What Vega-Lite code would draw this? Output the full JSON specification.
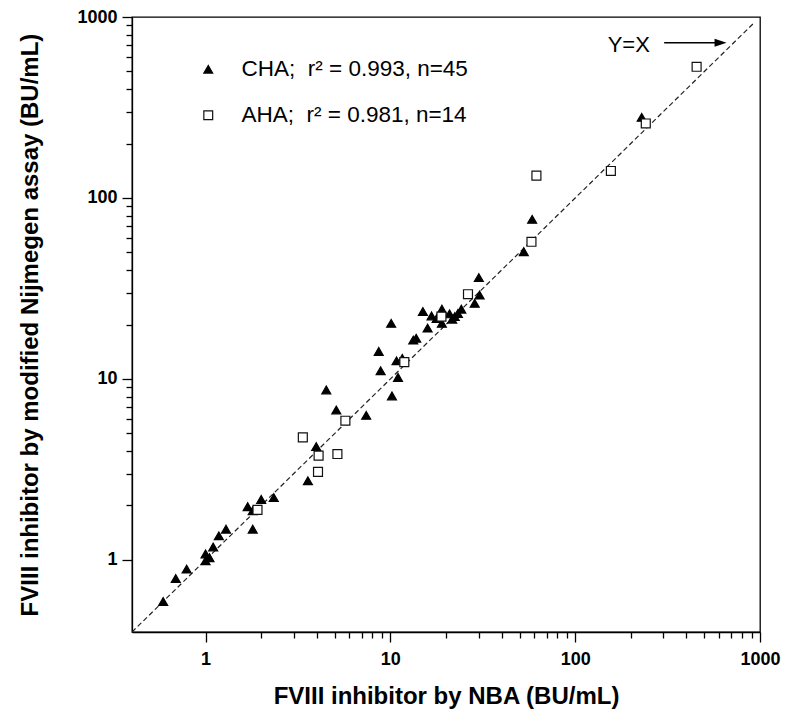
{
  "$schema": "https://vega.github.io/schema/vega-lite/v6.json",
  "width": 628,
  "height": 615,
  "autosize": {"type": "none"},
  "padding": {"left": 132, "top": 17, "right": 34, "bottom": 84},
  "background": "white",
  "config": {
    "view": {"stroke": "black", "strokeWidth": 1.3},
    "font": "Liberation Sans",
    "legend": {
      "orient": "none",
      "legendX": 65,
      "legendY": 41,
      "padding": 0,
      "labelFontSize": 22.5,
      "labelFont": "Liberation Sans",
      "labelColor": "black",
      "labelLimit": 500,
      "symbolSize": 78,
      "symbolStrokeColor": "black",
      "symbolStrokeWidth": 1.2,
      "symbolOpacity": 1,
      "rowPadding": 23,
      "labelOffset": 22
    }
  },
  "encoding": {
    "x": {
      "field": "x",
      "type": "quantitative",
      "scale": {"type": "log", "domain": [0.4, 1000], "nice": false, "zero": false},
      "axis": {
        "title": "FVIII inhibitor by NBA (BU/mL)",
        "values": [1, 2, 3, 4, 5, 6, 7, 8, 9, 10, 20, 30, 40, 50, 60, 70, 80, 90, 100, 200, 300, 400, 500, 600, 700, 800, 900, 1000],
        "format": "d",
        "labelExpr": "indexof([1,10,100,1000], datum.value) >= 0 ? datum.label : ''",
        "tickSize": {"condition": {"test": "indexof([1,10,100,1000], datum.value) >= 0", "value": 10}, "value": 6},
        "labelFontSize": 18,
        "labelFontWeight": "bold",
        "labelFont": "Liberation Sans",
        "labelColor": "black",
        "labelPadding": 8,
        "labelFlush": false,
        "labelOverlap": false,
        "titleFontSize": 24,
        "titleFontWeight": "bold",
        "titleFont": "Liberation Sans",
        "titleColor": "black",
        "titlePadding": 16,
        "domainColor": "black",
        "domainWidth": 1.3,
        "tickColor": "black",
        "tickWidth": 1.3,
        "grid": false
      }
    },
    "y": {
      "field": "y",
      "type": "quantitative",
      "scale": {"type": "log", "domain": [0.4, 1000], "nice": false, "zero": false},
      "axis": {
        "title": "FVIII inhibitor by modified Nijmegen assay (BU/mL)",
        "values": [1, 2, 3, 4, 5, 6, 7, 8, 9, 10, 20, 30, 40, 50, 60, 70, 80, 90, 100, 200, 300, 400, 500, 600, 700, 800, 900, 1000],
        "format": "d",
        "labelExpr": "indexof([1,10,100,1000], datum.value) >= 0 ? datum.label : ''",
        "tickSize": {"condition": {"test": "indexof([1,10,100,1000], datum.value) >= 0", "value": 10}, "value": 6},
        "labelFontSize": 18,
        "labelFontWeight": "bold",
        "labelFont": "Liberation Sans",
        "labelColor": "black",
        "labelPadding": 5,
        "labelFlush": false,
        "labelOverlap": false,
        "titleFontSize": 24,
        "titleFontWeight": "bold",
        "titleFont": "Liberation Sans",
        "titleColor": "black",
        "titlePadding": 34,
        "domainColor": "black",
        "domainWidth": 1.3,
        "tickColor": "black",
        "tickWidth": 1.3,
        "grid": false
      }
    }
  },
  "layer": [
    {
      "data": {"values": [{"x": 0.4, "y": 0.4}, {"x": 940, "y": 940}]},
      "mark": {"type": "line", "color": "#222222", "strokeWidth": 1.2, "strokeDash": [5, 3], "clip": true},
      "encoding": {}
    },
    {
      "data": {"values": [
        {"group": "CHA", "x": 0.59, "y": 0.59},
        {"group": "CHA", "x": 0.69, "y": 0.79},
        {"group": "CHA", "x": 0.79, "y": 0.89},
        {"group": "CHA", "x": 1.0, "y": 0.99},
        {"group": "CHA", "x": 1.0, "y": 1.08},
        {"group": "CHA", "x": 1.05, "y": 1.03},
        {"group": "CHA", "x": 1.10, "y": 1.18},
        {"group": "CHA", "x": 1.18, "y": 1.36},
        {"group": "CHA", "x": 1.29, "y": 1.48},
        {"group": "CHA", "x": 1.69, "y": 1.97},
        {"group": "CHA", "x": 1.80, "y": 1.87},
        {"group": "CHA", "x": 1.80, "y": 1.48},
        {"group": "CHA", "x": 2.00, "y": 2.16},
        {"group": "CHA", "x": 2.34, "y": 2.21},
        {"group": "CHA", "x": 3.58, "y": 2.74},
        {"group": "CHA", "x": 3.97, "y": 4.23},
        {"group": "CHA", "x": 4.5, "y": 8.7},
        {"group": "CHA", "x": 5.1, "y": 6.74},
        {"group": "CHA", "x": 7.4, "y": 6.3},
        {"group": "CHA", "x": 8.65, "y": 14.2},
        {"group": "CHA", "x": 8.86, "y": 11.1},
        {"group": "CHA", "x": 10.2, "y": 8.06},
        {"group": "CHA", "x": 11.0, "y": 10.2},
        {"group": "CHA", "x": 10.8, "y": 12.6},
        {"group": "CHA", "x": 11.6, "y": 13.0},
        {"group": "CHA", "x": 13.3, "y": 16.4},
        {"group": "CHA", "x": 13.8, "y": 16.8},
        {"group": "CHA", "x": 10.1, "y": 20.3},
        {"group": "CHA", "x": 15.9, "y": 19.1},
        {"group": "CHA", "x": 15.0, "y": 23.6},
        {"group": "CHA", "x": 16.7, "y": 22.3},
        {"group": "CHA", "x": 17.8, "y": 21.6},
        {"group": "CHA", "x": 19.0, "y": 24.3},
        {"group": "CHA", "x": 19.0, "y": 20.3},
        {"group": "CHA", "x": 20.9, "y": 22.9},
        {"group": "CHA", "x": 21.6, "y": 21.4},
        {"group": "CHA", "x": 22.3, "y": 22.1},
        {"group": "CHA", "x": 23.2, "y": 23.0},
        {"group": "CHA", "x": 24.2, "y": 24.3},
        {"group": "CHA", "x": 28.6, "y": 26.2},
        {"group": "CHA", "x": 30.4, "y": 29.1},
        {"group": "CHA", "x": 30.1, "y": 36.3},
        {"group": "CHA", "x": 52.7, "y": 50.5},
        {"group": "CHA", "x": 58.5, "y": 76.2},
        {"group": "CHA", "x": 229, "y": 279},
        {"group": "AHA", "x": 1.91, "y": 1.89},
        {"group": "AHA", "x": 4.06, "y": 3.07},
        {"group": "AHA", "x": 3.36, "y": 4.76},
        {"group": "AHA", "x": 4.09, "y": 3.77},
        {"group": "AHA", "x": 5.17, "y": 3.85},
        {"group": "AHA", "x": 5.71, "y": 5.88},
        {"group": "AHA", "x": 11.9, "y": 12.4},
        {"group": "AHA", "x": 18.9, "y": 22.1},
        {"group": "AHA", "x": 26.3, "y": 29.4},
        {"group": "AHA", "x": 58.0, "y": 57.3},
        {"group": "AHA", "x": 61.7, "y": 133},
        {"group": "AHA", "x": 156, "y": 141},
        {"group": "AHA", "x": 241, "y": 258},
        {"group": "AHA", "x": 454, "y": 531}
      ]},
      "mark": {"type": "point", "filled": true, "strokeWidth": 1.2, "size": 80, "opacity": 1},
      "encoding": {
        "shape": {
          "field": "group",
          "type": "nominal",
          "scale": {"domain": ["CHA", "AHA"], "range": ["triangle-up", "square"]},
          "legend": {
            "title": null,
            "labelExpr": "datum.value == 'CHA' ? 'CHA;\u00a0\u00a0r² = 0.993, n=45' : 'AHA;\u00a0\u00a0r² = 0.981, n=14'"
          }
        },
        "fill": {
          "field": "group",
          "type": "nominal",
          "scale": {"domain": ["CHA", "AHA"], "range": ["black", "white"]},
          "legend": {
            "title": null,
            "labelExpr": "datum.value == 'CHA' ? 'CHA;\u00a0\u00a0r² = 0.993, n=45' : 'AHA;\u00a0\u00a0r² = 0.981, n=14'"
          }
        },
        "stroke": {
          "field": "group",
          "type": "nominal",
          "scale": {"domain": ["CHA", "AHA"], "range": ["black", "#111111"]},
          "legend": {
            "title": null,
            "labelExpr": "datum.value == 'CHA' ? 'CHA;\u00a0\u00a0r² = 0.993, n=45' : 'AHA;\u00a0\u00a0r² = 0.981, n=14'"
          }
        }
      }
    },
    {
      "data": {"values": [{"x": 303, "x2": 612, "y": 721}]},
      "mark": {"type": "rule", "color": "black", "strokeWidth": 1.6},
      "encoding": {"x2": {"field": "x2"}}
    },
    {
      "data": {"values": [{"x": 612, "y": 721}]},
      "mark": {"type": "point", "shape": "M1,0L-1,-0.67L-1,0.67Z", "filled": true, "color": "black", "size": 144, "opacity": 1},
      "encoding": {}
    },
    {
      "data": {"values": [{"x": 195, "y": 700, "label": "Y=X"}]},
      "mark": {"type": "text", "fontSize": 22, "font": "Liberation Sans", "align": "center", "baseline": "middle", "color": "black"},
      "encoding": {"text": {"field": "label"}}
    }
  ]
}
